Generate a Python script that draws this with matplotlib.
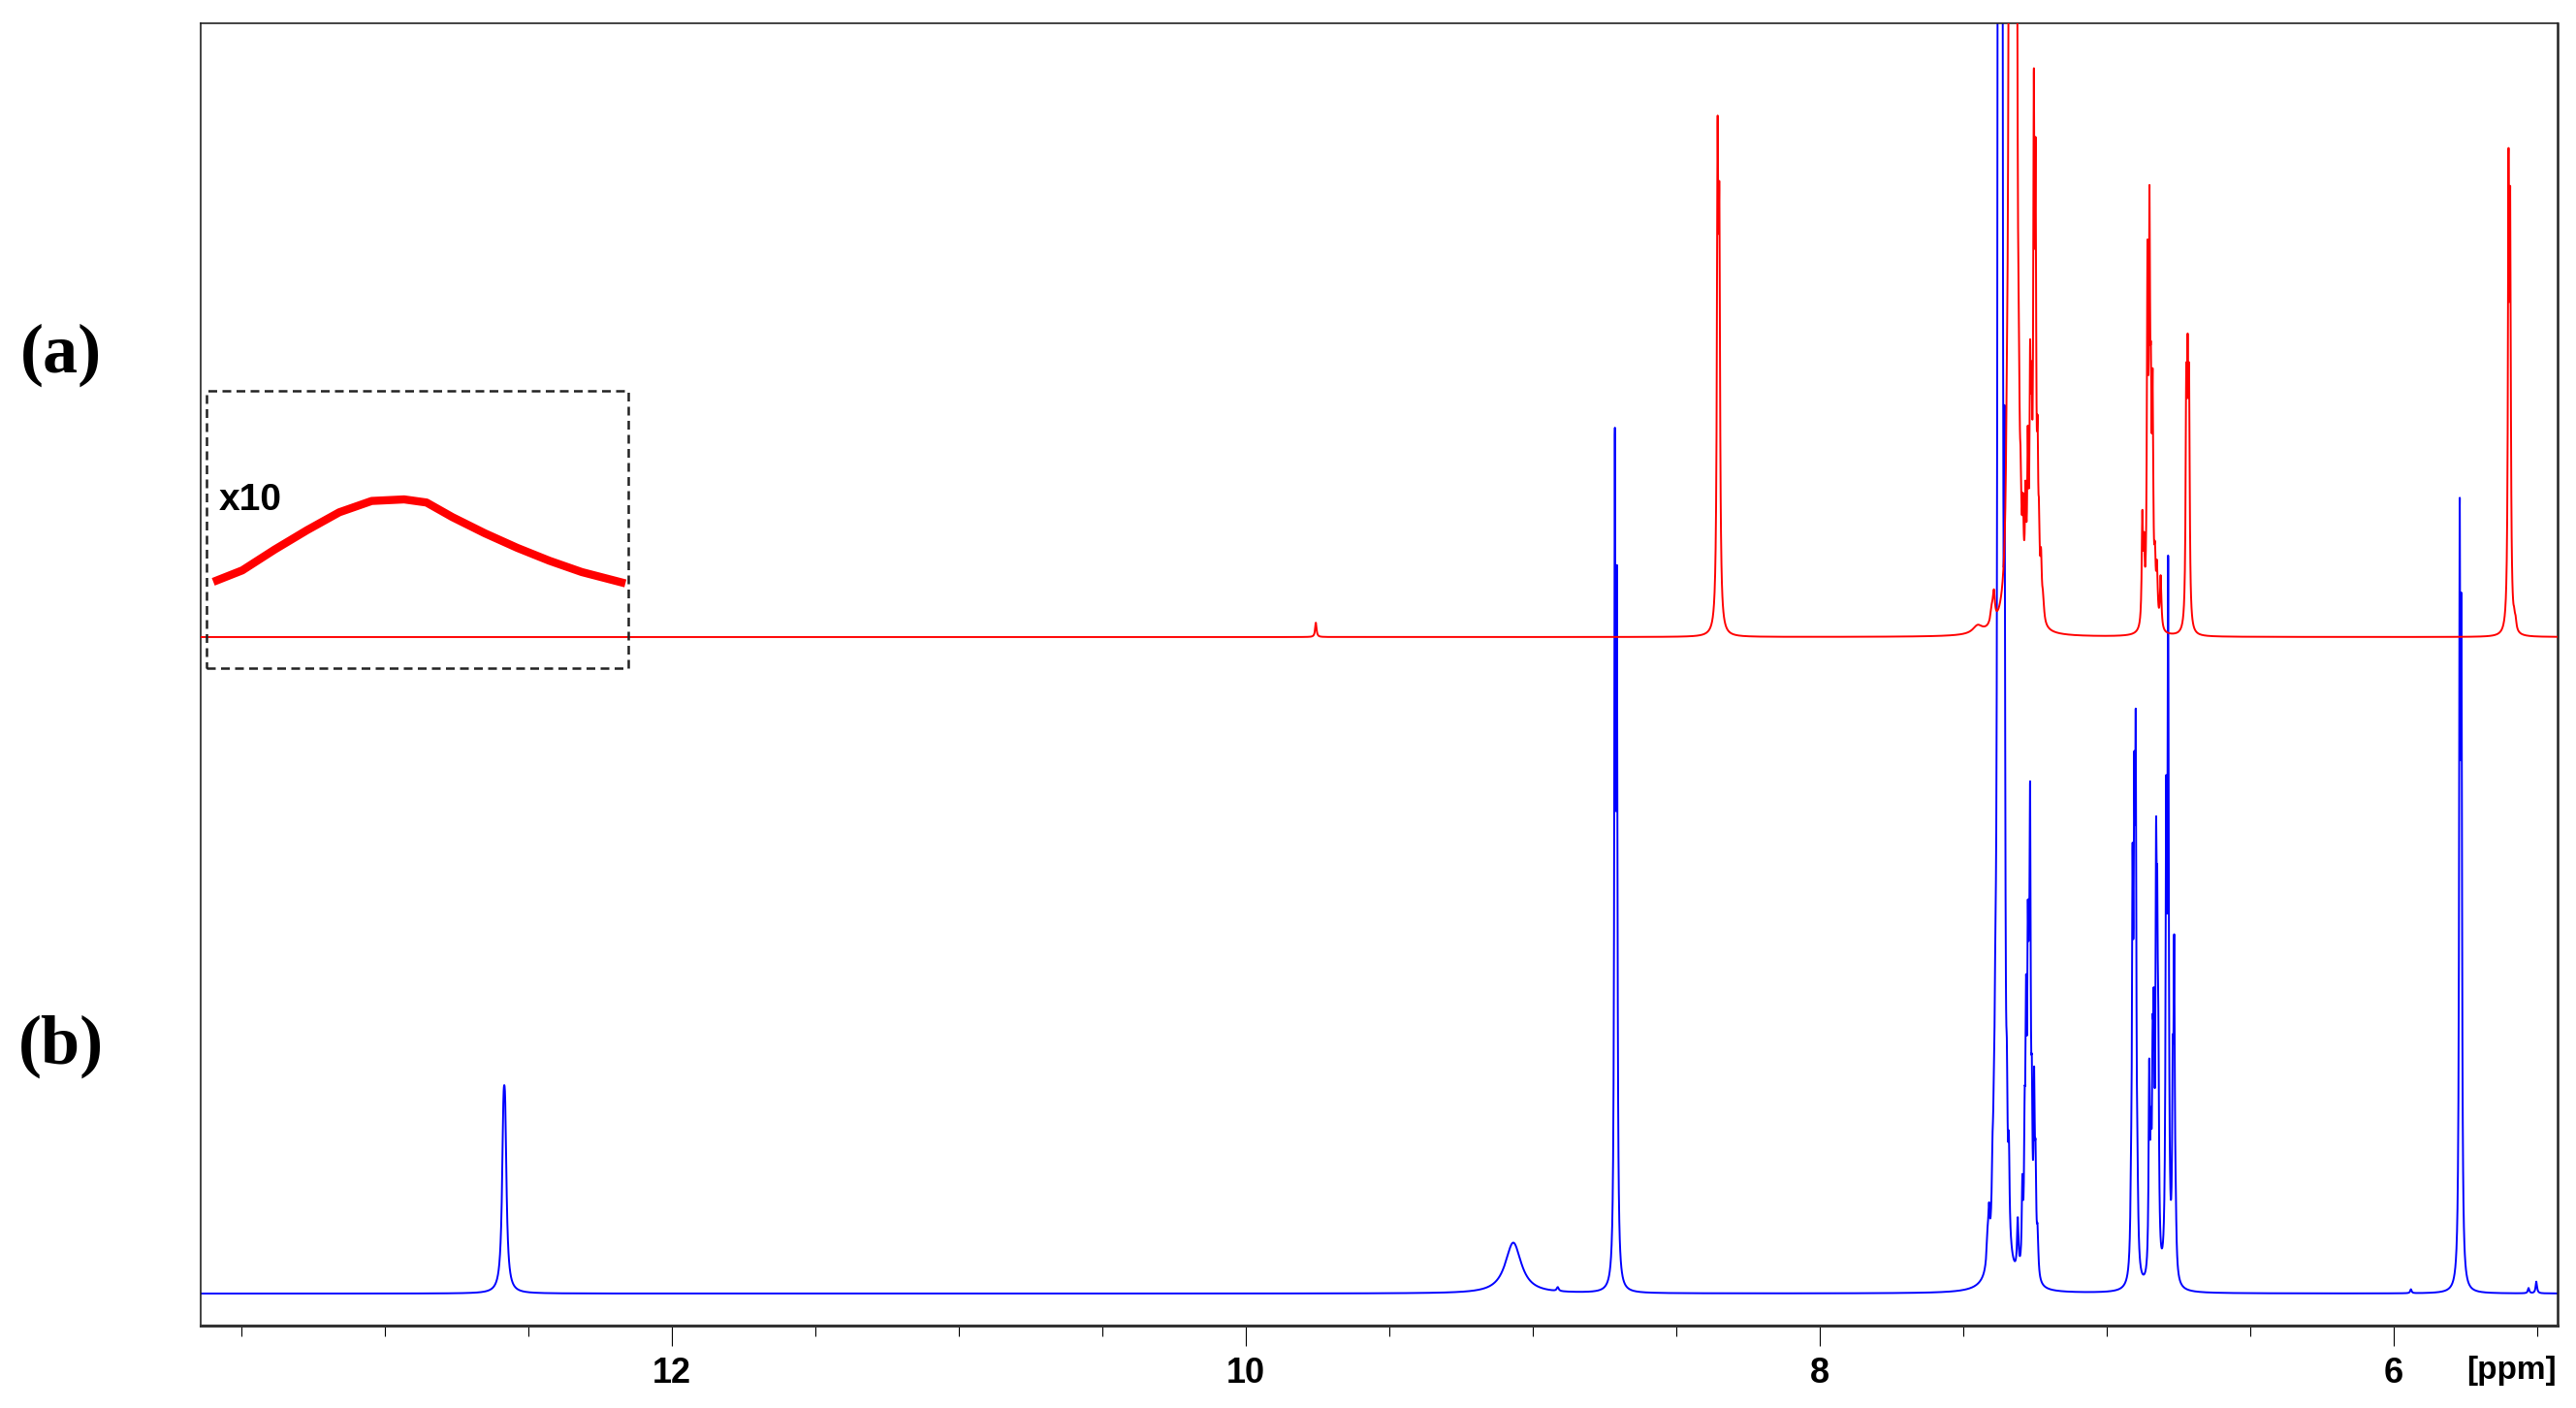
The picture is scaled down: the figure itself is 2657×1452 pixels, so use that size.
import numpy as np
import matplotlib
matplotlib.use("Agg")
import matplotlib.pyplot as plt
from matplotlib.ticker import FixedLocator, MultipleLocator

# peak tables: position (ppm), height (axes fraction above baseline), half width (ppm)
blue_ppm = [12.587, 12.581, 9.068, 8.913, 8.714, 8.707,
            7.415, 7.410, 7.398, 7.393, 7.388, 7.378, 7.372, 7.365, 7.356, 7.348, 7.341,
            7.310, 7.294, 7.286, 7.281, 7.275, 7.271, 7.267, 7.261, 7.253, 7.248, 7.241,
            6.915, 6.910, 6.904, 6.899, 6.893, 6.852, 6.846, 6.840, 6.836, 6.828, 6.824,
            6.820, 6.793, 6.786, 6.770, 6.765, 6.760,
            5.940, 5.770, 5.764, 5.530, 5.503]
blue_height = [0.10, 0.10, 0.039, 0.003, 0.61, 0.49,
               0.02, 0.03, 0.04, 0.05, 0.09, 1.3, 1.3, 1.3, 0.47, 0.07, 0.06,
               0.04, 0.06, 0.09, 0.17, 0.20, 0.12, 0.31, 0.10, 0.13, 0.07, 0.03,
               0.04, 0.27, 0.295, 0.365, 0.04, 0.15, 0.08, 0.13, 0.15, 0.27, 0.20,
               0.12, 0.33, 0.52, 0.13, 0.23, 0.03,
               0.003, 0.543, 0.456, 0.004, 0.009]
blue_width = [0.006, 0.006, 0.034, 0.004, 0.0025, 0.0025,
              0.004, 0.003, 0.003, 0.003, 0.003, 0.003, 0.003, 0.003, 0.0025, 0.0025, 0.0025,
              0.003, 0.0025, 0.0025, 0.0025, 0.0025, 0.0025, 0.0025, 0.0025, 0.0025, 0.0025, 0.003,
              0.003, 0.0025, 0.0025, 0.0025, 0.003, 0.0025, 0.0025, 0.0025, 0.0025, 0.0025, 0.0025,
              0.0025, 0.0025, 0.0025, 0.0025, 0.0025, 0.003,
              0.003, 0.0025, 0.0025, 0.003, 0.003]

red_ppm = [9.756, 8.356, 8.350,
           7.450, 7.400, 7.393, 7.348, 7.338, 7.327, 7.316, 7.306, 7.300, 7.292, 7.283,
           7.275, 7.267, 7.262, 7.254, 7.248, 7.241, 7.236, 7.229, 7.222,
           6.876, 6.870, 6.858, 6.851, 6.846, 6.840, 6.832, 6.825, 6.812,
           6.723, 6.718, 6.713, 5.600, 5.594, 5.580, 5.575]
red_height = [0.011, 0.343, 0.279,
              0.006, 0.012, 0.02, 0.05, 0.9, 0.8, 0.9, 0.06, 0.04, 0.05, 0.07,
              0.11, 0.16, 0.12, 0.36, 0.30, 0.10, 0.05, 0.04, 0.015,
              0.08, 0.05, 0.26, 0.28, 0.13, 0.16, 0.04, 0.04, 0.04,
              0.166, 0.167, 0.166, 0.331, 0.296, 0.007, 0.006]
red_width = [0.003, 0.003, 0.003,
             0.02, 0.006, 0.004, 0.003, 0.004, 0.004, 0.004, 0.003, 0.0025, 0.0025, 0.0025,
             0.0025, 0.0025, 0.0025, 0.0025, 0.0025, 0.0025, 0.0025, 0.003, 0.004,
             0.0025, 0.0025, 0.0025, 0.0025, 0.0025, 0.0025, 0.003, 0.003, 0.003,
             0.0025, 0.0025, 0.0025, 0.0025, 0.0025, 0.003, 0.003]

# x10 expansion of the broad hump (inset)
inset_ppm = [13.598, 13.497, 13.384, 13.271, 13.159, 13.046, 12.933,
             12.855, 12.765, 12.652, 12.539, 12.427, 12.314, 12.162]
inset_height = [0.0424, 0.0512, 0.0672, 0.0821, 0.0958, 0.1045, 0.1057,
                0.1033, 0.0921, 0.0797, 0.0685, 0.0586, 0.0499, 0.0412]

major_ticks = [12, 10, 8, 6]
tick_labels = ["12", "10", "8", "6"]

blue_base = 0.0246
red_base = 0.5287
xmin, xmax = 13.642, 5.429


def spectrum(x, pos, h, w):
    y = np.zeros_like(x)
    for p, a, g in zip(pos, h, w):
        y += a / (1 + ((x - p) / g) ** 2)
    return y


x = np.arange(xmax, xmin, 0.0004)
blue = blue_base + spectrum(x, blue_ppm, blue_height, blue_width)
red = red_base + spectrum(x, red_ppm, red_height, red_width)

fig = plt.figure(figsize=(26.57, 14.52), dpi=100)
ax = fig.add_axes([0.0779, 0.05854, 0.91495, 0.92493])

ax.plot(x, blue, color="#0000FF", lw=1.4, zorder=2)
ax.plot(x, red, color="#FF0000", lw=1.4, zorder=3)
ax.plot(inset_ppm, red_base + np.array(inset_height), color="#FF0000", lw=6,
        solid_joinstyle="round", solid_capstyle="butt", zorder=3)

# dashed box round the expansion
bx0, bx1, by0, by1 = 13.622, 12.152, 0.505, 0.718
ax.plot([bx0, bx1, bx1, bx0, bx0], [by0, by0, by1, by1, by0], color="#222222",
        lw=1.8, ls=(0, (3.6, 2.2)), zorder=4)
ax.text(13.58, 0.634, "x10", fontsize=28, fontweight="bold",
        family="Liberation Sans", ha="left", va="center")

ax.set_xlim(xmin, xmax)
ax.set_ylim(0, 1)
ax.set_yticks([])
ax.xaxis.set_major_locator(FixedLocator(major_ticks))
ax.set_xticklabels(tick_labels)
ax.xaxis.set_minor_locator(MultipleLocator(0.5))
ax.tick_params(axis="x", which="major", direction="out", length=15, width=0.8, pad=8,
               labelsize=26, colors="black")
ax.tick_params(axis="x", which="minor", direction="out", length=8, width=0.8)
for lab in ax.get_xticklabels():
    lab.set_fontweight("bold")
    lab.set_family("Liberation Sans")

for side in ["left", "top", "right"]:
    ax.spines[side].set_linewidth(1.2)
    ax.spines[side].set_color("#222222")
ax.spines["bottom"].set_linewidth(2.2)
ax.spines["bottom"].set_color("#333333")
ax.spines["right"].set_linewidth(1.8)

fig.text(0.9748, 0.0262, "[ppm]", fontsize=24, fontweight="bold",
         family="Liberation Sans", ha="center", va="center")
fig.text(0.0237, 0.748, "(a)", fontsize=52, fontweight="bold",
         family="Liberation Serif", ha="center", va="center")
fig.text(0.0237, 0.2569, "(b)", fontsize=52, fontweight="bold",
         family="Liberation Serif", ha="center", va="center")

plt.savefig("out.png", dpi=100)
